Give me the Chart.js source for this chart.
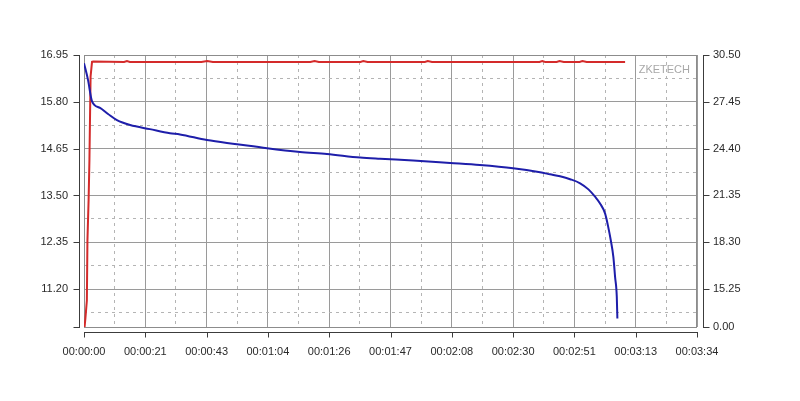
<!DOCTYPE html>
<html lang="en">
<head>
  <meta charset="UTF-8">
  <title>Discharge curve</title>
  <script src="https://cdn.jsdelivr.net/npm/chart.js"></script>
  <style>
    html, body {
      margin: 0;
      background: #ffffff;
    }

    .wrap {
      width: 800px;
      height: 401px;
    }
  </style>
</head>
<body>

<div class="wrap">
  <canvas id="grafico" width="800" height="401"></canvas>
</div>

<script>
  // time axis (seconds), labels shown as hh:mm:ss
  const xTicks = [0, 21.4, 42.8, 64.2, 85.6, 107, 128.4, 149.8, 171.2, 192.6, 214];
  const xTickLabels = ['00:00:00', '00:00:21', '00:00:43', '00:01:04', '00:01:26', '00:01:47',
    '00:02:08', '00:02:30', '00:02:51', '00:03:13', '00:03:34'];

  // left axis
  const leftMin = 10.27;
  const leftTicks = [11.20, 12.35, 13.50, 14.65, 15.80, 16.95];

  // right axis (bottom is labelled 0.00 by the meter software)
  const rightMin = 12.77;
  const rightTicks = [15.25, 18.30, 21.35, 24.40, 27.45, 30.50];
  const rightLabels = ['0.00', '15.25', '18.30', '21.35', '24.40', '27.45', '30.50'];

  // blue curve (left axis)
  const timeBlue = [0, 1.4, 2.8, 5.6, 8.4, 11.5, 16.1, 23.0, 30.0, 33.5, 42.9, 53.4, 63.9, 75.4,
    84.8, 96.4, 103.3, 114.9, 127.8, 138.2, 149.8, 159.2, 162.7, 166.2, 169.7, 173.2, 176.1,
    178.4, 180.1, 181.9, 183.0, 183.9, 184.8, 185.4, 186.0, 186.2];
  const voltBlue = [16.75, 16.34, 15.81, 15.65, 15.50, 15.35, 15.23, 15.13, 15.03, 15.00, 14.86,
    14.76, 14.66, 14.57, 14.52, 14.43, 14.40, 14.36, 14.30, 14.25, 14.17, 14.07, 14.02, 13.97,
    13.90, 13.80, 13.65, 13.47, 13.31, 13.06, 12.73, 12.40, 11.99, 11.50, 11.01, 10.48];

  // red curve (right axis)
  const timeRed = [0.2, 0.5, 1.0, 1.2, 1.6, 1.9, 2.3, 2.8, 3.2, 14, 15, 16, 41, 43, 45, 79, 80.5, 82,
    96.5, 97.5, 99, 119, 120, 121.5, 159, 160, 161, 165, 166, 167.5, 173, 174, 175.5, 188.9];
  const valRed = [12.77, 13.36, 14.5, 18.4, 21.0, 23.7, 29.1, 30.05, 30.07, 30.05, 30.1, 30.05, 30.05,
    30.11, 30.05, 30.05, 30.1, 30.05, 30.05, 30.1, 30.05, 30.05, 30.1, 30.05, 30.05, 30.1,
    30.05, 30.05, 30.1, 30.05, 30.05, 30.1, 30.05, 30.05];

  const xMinor = xTicks.slice(0, -1).map((v, i) => (v + xTicks[i + 1]) / 2);
  const yMinor = [10.625, 11.775, 12.925, 14.075, 15.225, 16.375];

  const fonte = { family: "'Liberation Sans', Arial, sans-serif", size: 11 };

  // plot box, offset axis lines, tick marks and the watermark
  const molduraPlugin = {
    id: 'moldura',
    beforeDatasetsDraw(chart) {
      const { ctx, chartArea: a } = chart;
      ctx.save();
      ctx.strokeStyle = '#8c8c8c';
      ctx.lineWidth = 1;
      ctx.strokeRect(a.left + 0.5, a.top + 0.5, a.right - a.left - 1, a.bottom - a.top);

      ctx.fillStyle = '#a8a8a8';
      ctx.font = "11px 'Liberation Sans', Arial, sans-serif";
      ctx.textAlign = 'right';
      ctx.textBaseline = 'middle';
      ctx.fillText('ZKETECH', a.right - 7, a.top + 15);
      ctx.restore();
    },
    afterDraw(chart) {
      const { ctx, chartArea: a, scales } = chart;
      ctx.save();
      ctx.strokeStyle = '#3c3c3c';
      ctx.lineWidth = 1;
      ctx.beginPath();
      // left axis
      const xl = a.left - 4.5;
      ctx.moveTo(xl, a.top);
      ctx.lineTo(xl, a.bottom + 1);
      [leftMin, ...leftTicks].forEach(v => {
        const y = Math.round(scales.y.getPixelForValue(v)) + 0.5;
        ctx.moveTo(xl - 6, y);
        ctx.lineTo(xl, y);
      });
      // right axis
      const xr = a.right + 6.5;
      ctx.moveTo(xr, a.top);
      ctx.lineTo(xr, a.bottom + 1);
      [rightMin, ...rightTicks].forEach(v => {
        const y = Math.round(scales.y2.getPixelForValue(v)) + 0.5;
        ctx.moveTo(xr, y);
        ctx.lineTo(xr + 6, y);
      });
      // bottom axis
      const yb = a.bottom + 5.5;
      ctx.moveTo(a.left, yb);
      ctx.lineTo(a.right + 1, yb);
      xTicks.forEach(v => {
        const x = Math.round(scales.x.getPixelForValue(v)) + 0.5;
        ctx.moveTo(x, yb);
        ctx.lineTo(x, yb + 5);
      });
      ctx.stroke();
      ctx.restore();
    }
  };

  const ctxGrafico = document.getElementById('grafico').getContext('2d');
  new Chart(ctxGrafico, {
    type: 'line',
    data: {
      datasets: [
        {
          label: 'blue',
          data: timeBlue.map((t, i) => ({ x: t, y: voltBlue[i] })),
          borderColor: '#1e1eaa',
          borderWidth: 2,
          pointRadius: 0,
          cubicInterpolationMode: 'monotone',
          xAxisID: 'x',
          yAxisID: 'y'
        },
        {
          label: 'red',
          data: timeRed.map((t, i) => ({ x: t, y: valRed[i] })),
          borderColor: '#d42a2a',
          borderWidth: 2,
          pointRadius: 0,
          tension: 0,
          xAxisID: 'x',
          yAxisID: 'y2'
        }
      ]
    },
    options: {
      responsive: false,
      animation: false,
      layout: { padding: { top: 55, left: 0, right: 0, bottom: 0 } },
      plugins: {
        legend: { display: false },
        tooltip: { enabled: false }
      },
      scales: {
        x: {
          type: 'linear',
          position: 'bottom',
          min: 0,
          max: 214,
          afterBuildTicks: s => { s.ticks = xTicks.map(v => ({ value: v })); },
          afterFit: s => { s.height = 74; },
          grid: { color: '#9a9a9a', drawTicks: false },
          border: { display: false },
          ticks: {
            autoSkip: false,
            maxRotation: 0,
            padding: 18,
            color: '#2a2a2a',
            font: fonte,
            callback: (v, i) => xTickLabels[i]
          }
        },
        xMinor: {
          type: 'linear',
          position: 'bottom',
          min: 0,
          max: 214,
          afterBuildTicks: s => { s.ticks = xMinor.map(v => ({ value: v })); },
          afterFit: s => { s.height = 0; },
          grid: { color: '#b4b4b4', drawTicks: false },
          border: { display: false, dash: [3, 4] },
          ticks: { display: false }
        },
        y: {
          type: 'linear',
          position: 'left',
          min: leftMin,
          max: 16.95,
          afterBuildTicks: s => { s.ticks = [leftMin, ...leftTicks].map(v => ({ value: v })); },
          afterFit: s => { s.width = 84; },
          grid: { color: '#9a9a9a', drawTicks: false },
          border: { display: false },
          ticks: {
            padding: 16,
            color: '#2a2a2a',
            font: fonte,
            callback: (v, i) => (i === 0 ? '' : v.toFixed(2))
          }
        },
        yMinor: {
          type: 'linear',
          position: 'left',
          min: leftMin,
          max: 16.95,
          afterBuildTicks: s => { s.ticks = yMinor.map(v => ({ value: v })); },
          afterFit: s => { s.width = 0; },
          grid: { color: '#b4b4b4', drawTicks: false },
          border: { display: false, dash: [3, 4] },
          ticks: { display: false }
        },
        y2: {
          type: 'linear',
          position: 'right',
          min: rightMin,
          max: 30.50,
          afterBuildTicks: s => { s.ticks = [rightMin, ...rightTicks].map(v => ({ value: v })); },
          afterFit: s => { s.width = 103; },
          grid: { drawOnChartArea: false, drawTicks: false },
          border: { display: false },
          ticks: {
            padding: 16,
            color: '#2a2a2a',
            font: fonte,
            callback: (v, i) => rightLabels[i]
          }
        }
      }
    },
    plugins: [molduraPlugin]
  });
</script>

</body>
</html>
